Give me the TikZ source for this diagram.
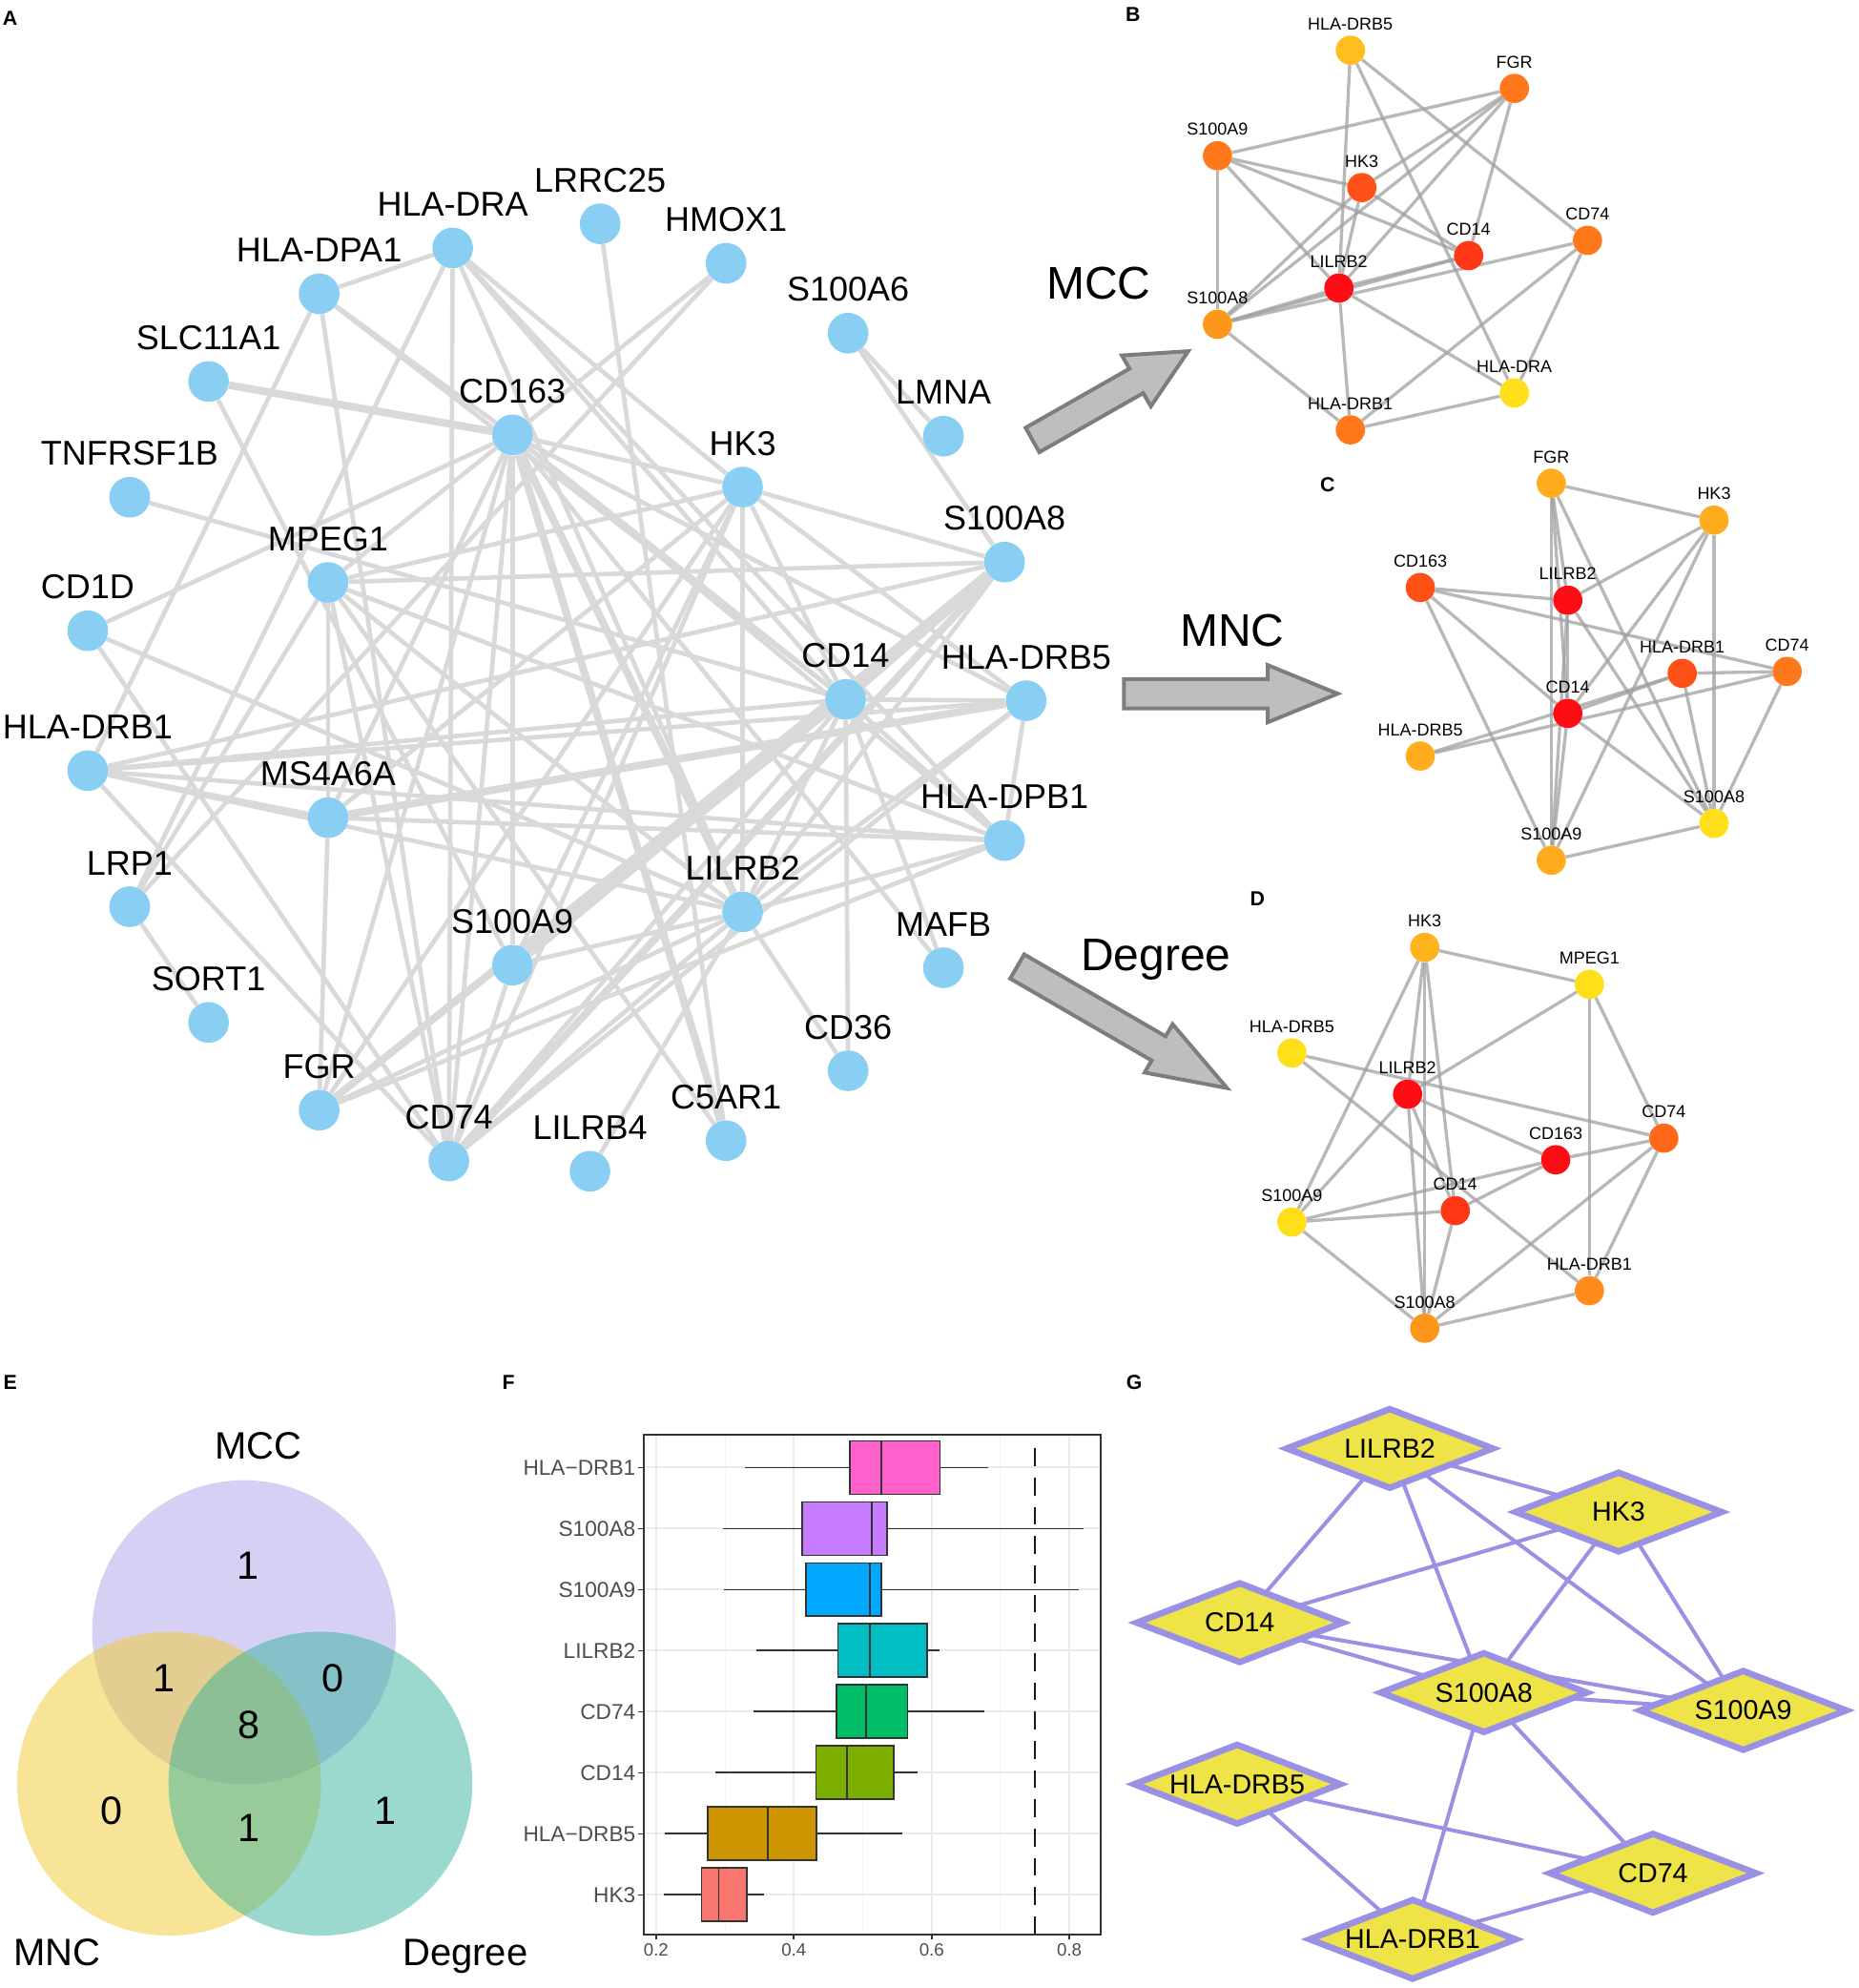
\documentclass[tikz,border=0pt]{standalone}
\usepackage{fontspec}
\setmainfont{Liberation Sans}
\usetikzlibrary{shapes.geometric}
\pgfdeclarelayer{edges}
\pgfsetlayers{edges,main}
\definecolor{nblue}{RGB}{137,207,244}
\definecolor{egray}{RGB}{217,217,217}
\definecolor{arrfill}{RGB}{190,190,190}
\definecolor{arrdraw}{RGB}{125,125,125}
\definecolor{sgray}{RGB}{160,160,160}
\definecolor{cR}{RGB}{255,13,20}
\definecolor{cRO}{RGB}{255,55,22}
\definecolor{cOR}{RGB}{255,80,24}
\definecolor{cO}{RGB}{255,120,28}
\definecolor{cOd}{RGB}{255,105,25}
\definecolor{cO2}{RGB}{255,150,28}
\definecolor{cOe}{RGB}{255,140,28}
\definecolor{cYO}{RGB}{255,172,30}
\definecolor{cYh}{RGB}{255,180,30}
\definecolor{cY2}{RGB}{255,190,30}
\definecolor{cY}{RGB}{255,222,26}
\definecolor{vmcc}{RGB}{173,163,233}
\definecolor{vmnc}{RGB}{241,201,45}
\definecolor{vdeg}{RGB}{55,179,159}
\definecolor{gridc}{RGB}{235,235,235}
\definecolor{gridm}{RGB}{245,245,245}
\definecolor{axc}{RGB}{51,51,51}
\definecolor{axt}{RGB}{77,77,77}
\definecolor{kDRBa}{HTML}{FF61CC}
\definecolor{kAe}{HTML}{C77CFF}
\definecolor{kAn}{HTML}{00A9FF}
\definecolor{kLIL}{HTML}{00BFC4}
\definecolor{kCDs}{HTML}{00BE67}
\definecolor{kCDf}{HTML}{7CAE00}
\definecolor{kDRBf}{HTML}{CD9600}
\definecolor{kHK}{HTML}{F8766D}
\definecolor{gyel}{RGB}{238,228,72}
\definecolor{glav}{RGB}{155,145,228}
\newcommand{\anod}[4]{\node[anode] (#1) at (#2,#3) {}; \node[alab] (#1l) at (#2,#3-25) {#4};}
\newcommand{\snod}[5]{\node[snode,fill=#4] (#1) at (#2,#3) {}; \node[slab] (#1l) at (#2,#3-16) {#5};}
\newcommand{\bxp}[8]{%
  \draw[bxline] (#2,#1) -- (#3,#1);
  \draw[bxline] (#5,#1) -- (#6,#1);
  \draw[bxline,fill=#7] (#3,#1-21) rectangle (#5,#1+21);
  \draw[bxline] (#4,#1-21) -- (#4,#1+21);
  \node[ylab] (yl#8) at (500,#1) {#8};
  \draw[axc,line width=1.2] (502,#1) -- (506,#1);}
\begin{document}
\begin{tikzpicture}[x=1pt,y=-1pt,
  anode/.style={circle,fill=nblue,minimum size=32,inner sep=0},
  alab/.style={anchor=base,inner sep=0,font=\fontsize{27}{30}\selectfont},
  ae/.style={draw=egray,line width=3.5},
  aet/.style={draw=egray,line width=6},
  aevt/.style={draw=egray,line width=9},
  snode/.style={circle,minimum size=23,inner sep=0},
  slab/.style={anchor=base,inner sep=0,font=\fontsize{13.5}{15}\selectfont},
  se/.style={draw=sgray,line width=2.5,draw opacity=0.75},
  plab/.style={inner sep=0,font=\bfseries\fontsize{16}{18}\selectfont},
  biglab/.style={anchor=base,inner sep=0,font=\fontsize{36}{40}\selectfont},
  vlab/.style={anchor=base,inner sep=0,font=\fontsize{30}{34}\selectfont},
  blockarrow/.style={fill=arrfill,draw=arrdraw,line width=3,line join=miter},
  bxline/.style={draw=axc,line width=1.3},
  ylab/.style={anchor=east,inner sep=0,text=axt,font=\fontsize{17}{19}\selectfont},
  xlab/.style={anchor=base,inner sep=0,text=axt,font=\fontsize{14}{16}\selectfont},
  gdia/.style={diamond,aspect=2.4,minimum width=164,minimum height=64,inner sep=0,
    fill=gyel,draw=glav,line width=5,font=\fontsize{21.5}{24}\selectfont},
  ge/.style={draw=glav,line width=3}
]
\useasboundingbox (0,0) rectangle (1462,1563.3);

% ---------------- panel letters ----------------
\node[plab] (pA) at (8,14) {A};
\node[plab] (pB) at (891,11) {B};
\node[plab] (pC) at (1044,381) {C};
\node[plab] (pD) at (989,707) {D};
\node[plab] (pE) at (8,1087) {E};
\node[plab] (pF) at (400,1087) {F};
\node[plab] (pG) at (892,1087) {G};

% ---------------- panel A ----------------
\anod{aDRA}{356}{195}{HLA-DRA}
\anod{aLRRC}{472}{176}{LRRC25}
\anod{aHMOX}{571}{207}{HMOX1}
\anod{aDPA1}{251}{231}{HLA-DPA1}
\anod{aSLC}{164}{300}{SLC11A1}
\anod{aA6}{667}{262}{S100A6}
\anod{a163}{403}{342}{CD163}
\anod{aLMNA}{742}{343}{LMNA}
\anod{aTNF}{102}{391}{TNFRSF1B}
\anod{aHK3}{584}{383}{HK3}
\anod{aA8}{790}{442}{S100A8}
\anod{aMPEG}{258}{458}{MPEG1}
\anod{aCD1D}{69}{496}{CD1D}
\anod{aCD14}{665}{550}{CD14}
\anod{aDRB5}{807}{551}{HLA-DRB5}
\anod{aDRB1}{69}{606}{HLA-DRB1}
\anod{aMS4}{258}{643}{MS4A6A}
\anod{aDPB1}{790}{661}{HLA-DPB1}
\anod{aLRP1}{102}{713}{LRP1}
\anod{aLIL2}{584}{717}{LILRB2}
\anod{aA9}{403}{759}{S100A9}
\anod{aMAFB}{742}{761}{MAFB}
\anod{aSORT}{164}{804}{SORT1}
\anod{aCD36}{667}{842}{CD36}
\anod{aFGR}{251}{873}{FGR}
\anod{aC5}{571}{897}{C5AR1}
\anod{aCD74}{353}{913}{CD74}
\anod{aLIL4}{464}{921}{LILRB4}

\begin{pgfonlayer}{edges}
\foreach \p/\q in {aDPA1/aDRA, aDPA1/a163, aDPA1/aCD14, aDPA1/aDRB1, aDPA1/aCD74,
  aDRA/aCD74, aDRA/aLRP1, aDRA/aLIL2, aDRA/aHK3, aDRA/aDPB1, aDRA/aCD14,
  aLRRC/aC5, aHMOX/a163, aHMOX/aLRP1, aA6/aLMNA, aA6/aA8, aSLC/aA9, aTNF/aCD14,
  aCD1D/a163, aCD1D/aLIL2, aCD1D/aCD74,
  a163/aHK3, a163/aMPEG, a163/aCD14, a163/aA9, a163/aCD74, a163/aDPB1, a163/aMAFB,
  a163/aFGR, a163/aDRB5, a163/aMS4,
  aMPEG/aLRP1, aMPEG/aMS4, aMPEG/aCD74, aMPEG/aHK3, aMPEG/aA8, aMPEG/aLIL2, aMPEG/aC5, aMPEG/aDPB1,
  aDRB1/aMS4, aDRB1/aCD14, aDRB1/aDRB5, aDRB1/aDPB1, aDRB1/aA8, aDRB1/aCD74, aDRB1/aLIL2,
  aMS4/aFGR, aMS4/aDPB1, aMS4/aHK3, aLRP1/aSORT,
  aLIL2/aHK3, aLIL2/aCD14, aLIL2/aA8, aLIL2/aDPB1, aLIL2/aA9, aLIL2/aCD74, aLIL2/aFGR,
  aLIL2/aCD36, aLIL2/aLIL4, aLIL2/aDRB5,
  aCD14/aHK3, aCD14/aDRB5, aCD14/aDPB1, aCD14/aCD36, aCD14/aMAFB, aCD14/aA9, aCD14/aCD74,
  aHK3/aA8, aHK3/aA9, aHK3/aFGR, aHK3/aCD74, aHK3/aDRB5,
  aDRB5/aDPB1, aDRB5/aCD74, aDPB1/aFGR, aA9/aCD74}
  \draw[ae] (\p) -- (\q);
\foreach \p/\q in {aSLC/a163, a163/aLIL2, a163/aC5, aMS4/aDRB5, aCD14/aA8, aA8/aFGR, aA8/aCD74}
  \draw[aet] (\p) -- (\q);
\draw[aevt] (aA8) -- (aA9);
\end{pgfonlayer}

% ---------------- block arrows ----------------
\draw[blockarrow] (806.6,336.4) -- (888.3,289.9) -- (882.3,279.5) -- (934.5,276.2)
  -- (905.1,319.5) -- (899.1,309.1) -- (817.4,355.6) -- cycle;
\draw[blockarrow] (884,534) -- (997,534) -- (997,523) -- (1052,545.5)
  -- (997,568) -- (997,557) -- (884,557) -- cycle;
\draw[blockarrow] (805.5,750.5) -- (916.7,814.9) -- (922.2,805.4) -- (965,855.6)
  -- (900.2,843.4) -- (905.7,833.9) -- (794.5,769.5) -- cycle;
\node[biglab] (tMCC) at (864,235.5) {MCC};
\node[biglab] (tMNC) at (969,508.5) {MNC};
\node[biglab] (tDeg) at (909,763.5) {Degree};

% ---------------- panel B ----------------
\snod{bDRB5}{1062}{39.5}{cY2}{HLA-DRB5}
\snod{bFGR}{1191}{69.5}{cO}{FGR}
\snod{bA9}{957.5}{122.5}{cO}{S100A9}
\snod{bHK3}{1071}{147.5}{cOR}{HK3}
\snod{bCD14}{1155}{201}{cRO}{CD14}
\snod{bCD74}{1248.5}{189}{cO}{CD74}
\snod{bLIL2}{1053}{226.5}{cR}{LILRB2}
\snod{bA8}{957.5}{255}{cO2}{S100A8}
\snod{bDRA}{1191}{309}{cY}{HLA-DRA}
\snod{bDRB1}{1062}{338}{cO}{HLA-DRB1}
\begin{pgfonlayer}{edges}
\foreach \p/\q in {bDRB5/bLIL2, bLIL2/bDRB1, bDRB5/bDRA, bDRB5/bCD74, bFGR/bA9, bFGR/bHK3,
  bFGR/bLIL2, bFGR/bA8, bFGR/bCD14, bA9/bHK3, bA9/bCD14, bA9/bLIL2, bA9/bA8, bHK3/bA8,
  bHK3/bLIL2, bHK3/bCD14, bCD14/bLIL2, bCD14/bA8, bCD74/bA8, bCD74/bDRB1, bCD74/bDRA,
  bLIL2/bDRA, bLIL2/bA8, bA8/bDRB1, bDRB1/bDRA}
  \draw[se] (\p) -- (\q);
\end{pgfonlayer}

% ---------------- panel C ----------------
\snod{cFGR}{1220}{380}{cYO}{FGR}
\snod{cHK3}{1348}{409}{cYO}{HK3}
\snod{c163}{1117}{462}{cOR}{CD163}
\snod{cLIL2}{1233}{472}{cR}{LILRB2}
\snod{cDRB1}{1323}{529.5}{cOR}{HLA-DRB1}
\snod{cCD74}{1405.5}{528}{cO}{CD74}
\snod{cCD14}{1233}{561}{cR}{CD14}
\snod{cDRB5}{1117}{594.5}{cYO}{HLA-DRB5}
\snod{cA8}{1348}{647.5}{cY}{S100A8}
\snod{cA9}{1220}{676.5}{cYO}{S100A9}
\begin{pgfonlayer}{edges}
\foreach \p/\q in {cFGR/cHK3, cFGR/cA9, cFGR/cCD14, cFGR/cLIL2, cFGR/cA8, cHK3/cLIL2,
  cHK3/cCD14, cHK3/cA9, cHK3/cA8, c163/cLIL2, c163/cCD74, c163/cCD14, c163/cA9,
  cLIL2/cCD14, cLIL2/cA8, cLIL2/cA9, cDRB1/cCD74, cDRB1/cA8, cCD14/cDRB1, cDRB5/cDRB1,
  cDRB5/cCD74, cCD74/cA8, cCD14/cA8, cCD14/cA9, cA9/cA8}
  \draw[se] (\p) -- (\q);
\end{pgfonlayer}

% ---------------- panel D ----------------
\snod{dHK3}{1120.5}{745}{cYh}{HK3}
\snod{dMPEG}{1250}{774}{cY}{MPEG1}
\snod{dDRB5}{1016}{828}{cY}{HLA-DRB5}
\snod{dLIL2}{1107}{860.5}{cR}{LILRB2}
\snod{d163}{1223.5}{912}{cR}{CD163}
\snod{dCD74}{1308.5}{895}{cOd}{CD74}
\snod{dCD14}{1144.5}{952}{cRO}{CD14}
\snod{dA9}{1016}{961}{cY}{S100A9}
\snod{dDRB1}{1250}{1015}{cOe}{HLA-DRB1}
\snod{dA8}{1120.5}{1044.5}{cO2}{S100A8}
\begin{pgfonlayer}{edges}
\foreach \p/\q in {dHK3/dMPEG, dHK3/dA9, dHK3/dLIL2, dHK3/dA8, dHK3/dCD14, dMPEG/dLIL2,
  dMPEG/dDRB1, dMPEG/dCD74, dDRB5/dCD74, dDRB5/dDRB1, dLIL2/d163, dLIL2/dA9, dLIL2/dA8,
  dLIL2/dCD14, d163/dCD74, d163/dCD14, d163/dA9, dCD74/dA8, dCD74/dDRB1, dCD14/dA9,
  dCD14/dA8, dA9/dA8, dA8/dDRB1}
  \draw[se] (\p) -- (\q);
\end{pgfonlayer}

% ---------------- panel E (Venn) ----------------
\fill[vmcc,fill opacity=0.5] (192,1283.5) circle[radius=119.5pt];
\fill[vmnc,fill opacity=0.5] (133,1402.6) circle[radius=119.5pt];
\fill[vdeg,fill opacity=0.5] (252,1402.6) circle[radius=119.5pt];
\node[vlab] (vtMCC) at (203,1147.6) {MCC};
\node[vlab] (vtMNC) at (45,1545.5) {MNC};
\node[vlab] (vtDeg) at (366,1545.5) {Degree};
\node[vlab,font=\fontsize{31}{34}\selectfont] (vn1) at (195,1242) {1};
\node[vlab,font=\fontsize{31}{34}\selectfont] (vn2) at (129,1330) {1};
\node[vlab,font=\fontsize{31}{34}\selectfont] (vn3) at (262,1330) {0};
\node[vlab,font=\fontsize{31}{34}\selectfont] (vn4) at (196,1367) {8};
\node[vlab,font=\fontsize{31}{34}\selectfont] (vn5) at (88,1435) {0};
\node[vlab,font=\fontsize{31}{34}\selectfont] (vn6) at (196,1448) {1};
\node[vlab,font=\fontsize{31}{34}\selectfont] (vn7) at (303,1435) {1};

% ---------------- panel F (boxplot) ----------------
\foreach \xx in {570.2,678.5,786.8}
  \draw[gridm,line width=0.8] (\xx,1128) -- (\xx,1521);
\foreach \xx in {516,624.3,732.7,841}
  \draw[gridc,line width=1.5] (\xx,1128) -- (\xx,1521);
\foreach \yy in {1154,1202,1250,1298,1346,1394,1442,1490}
  \draw[gridc,line width=1.5] (506,\yy) -- (866,\yy);
\bxp{1154}{585.9}{668.2}{693.1}{739.2}{777.1}{kDRBa}{HLA−DRB1}
\bxp{1202}{568.5}{630.8}{685.6}{697.5}{852.4}{kAe}{S100A8}
\bxp{1250}{569.1}{634.1}{683.9}{693.1}{848.6}{kAn}{S100A9}
\bxp{1298}{594.5}{659.0}{683.9}{729.4}{739.2}{kLIL}{LILRB2}
\bxp{1346}{592.9}{657.9}{681.2}{713.7}{773.9}{kCDs}{CD74}
\bxp{1394}{562.6}{641.7}{666.1}{702.9}{721.8}{kCDf}{CD14}
\bxp{1442}{522.5}{556.6}{603.8}{642.2}{709.4}{kDRBf}{HLA−DRB5}
\bxp{1490}{522.0}{551.8}{565.3}{587.5}{601.0}{kHK}{HK3}
\draw[black!90,line width=1.6,dash pattern=on 14pt off 9pt] (813.9,1139) -- (813.9,1521);
\draw[axc,line width=1.5] (506,1128) rectangle (866,1521);
\foreach \xx/\tt in {516/0.2,624.3/0.4,732.7/0.6,841/0.8} {
  \draw[axc,line width=1.2] (\xx,1521) -- (\xx,1525);
  \node[xlab] (xl\tt) at (\xx,1538) {\tt};
}

% ---------------- panel G ----------------
\node[gdia] (gLIL) at (1093,1139) {LILRB2};
\node[gdia] (gHK3) at (1273,1189) {HK3};
\node[gdia] (gCD14) at (975,1276) {CD14};
\node[gdia] (gA8) at (1167,1331) {S100A8};
\node[gdia] (gA9) at (1371,1345) {S100A9};
\node[gdia] (gDRB5) at (973,1403) {HLA-DRB5};
\node[gdia] (gCD74) at (1300,1473) {CD74};
\node[gdia] (gDRB1) at (1111,1525) {HLA-DRB1};
\begin{pgfonlayer}{edges}
\foreach \p/\q in {gLIL/gHK3, gLIL/gCD14, gLIL/gA8, gLIL/gA9, gHK3/gCD14, gHK3/gA8, gHK3/gA9,
  gCD14/gA8, gCD14/gA9, gA8/gA9, gA8/gDRB1, gA8/gCD74, gDRB5/gCD74, gDRB5/gDRB1, gCD74/gDRB1}
  \draw[ge] (\p.center) -- (\q.center);
\end{pgfonlayer}
\end{tikzpicture}
\end{document}
